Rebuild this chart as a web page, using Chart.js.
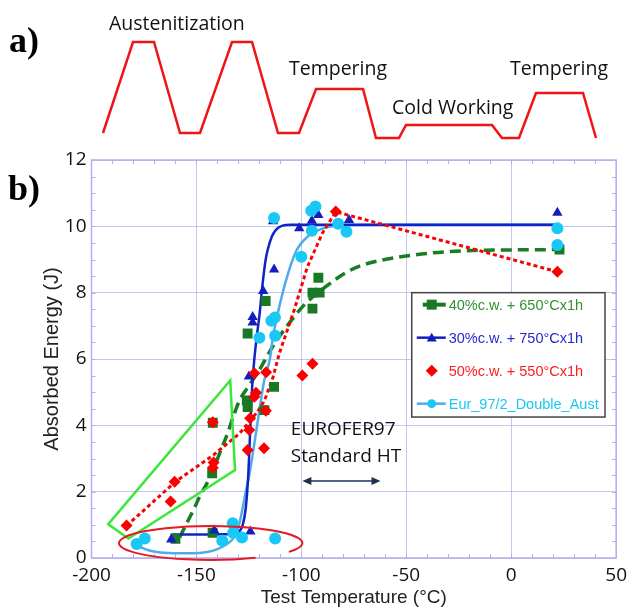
<!DOCTYPE html>
<html>
<head>
<meta charset="utf-8">
<script src="https://cdn.jsdelivr.net/npm/chart.js@4.4.0/dist/chart.umd.min.js"></script>
<style>
  html, body { margin: 0; padding: 0; background: #fff; }
  #page { position: relative; width: 633px; height: 612px; overflow: hidden; }
  .wrap { position: absolute; left: 0; top: 0; }
  .lbl { position: absolute; white-space: nowrap; font-family: "Open Sans"; font-size: 19.5px; line-height: 1; color: #111; }
  .tag { position: absolute; white-space: nowrap; font: bold 36px "Liberation Serif"; line-height: 1; color: #000; }
</style>
</head>
<body>
<div id="page">
  <div class="wrap" style="width:633px;height:150px"><canvas id="heat"></canvas></div>
  <div class="wrap" style="width:633px;height:612px"><canvas id="main"></canvas></div>
  <div class="tag" style="left:9px;top:22px">a)</div>
  <div class="tag" style="left:8px;top:170px">b)</div>
  <div class="lbl" style="left:109px;top:13px">Austenitization</div>
  <div class="lbl" style="left:289px;top:58px">Tempering</div>
  <div class="lbl" style="left:392px;top:97px">Cold Working</div>
  <div class="lbl" style="left:510px;top:58px">Tempering</div>
</div>
<script>
// panel a) heat treatment schematic (time, temperature in arbitrary units)
const heatTime = [103, 133, 154, 180, 200, 232, 252, 278, 299, 316, 363, 376, 399, 406, 492, 502, 519, 536, 583, 596];
const heatTemp = [17, 108, 108, 17, 17, 108, 108, 17, 17, 61, 61, 12, 12, 25, 25, 12, 12, 57, 57, 12];

// panel b) measured points [temperature °C, energy J]
const cw40Points = [[-160, 0.58], [-142.3, 0.76], [-142.5, 2.55], [-142.2, 4.08], [-126, 4.75], [-125.6, 4.55],
  [-117.6, 4.46], [-113, 5.16], [-125.6, 6.77], [-117, 7.75], [-94.7, 7.52], [-94.7, 8.0], [-91.3, 8.0],
  [-91.9, 8.45], [23, 9.3]];
const cw30Points = [[-162, 0.56], [-141.5, 0.83], [-124.3, 0.8], [-125, 5.47], [-123.2, 7.1], [-123.2, 7.27],
  [-118.2, 8.05], [-113, 8.7], [-113.5, 10.15], [-101, 9.94], [-95, 10.17], [-91.9, 10.34], [-77.3, 10.19], [22, 10.41]];
const cw50Points = [[-183.3, 0.98], [-162.3, 1.7], [-160.4, 2.3], [-142.2, 2.72], [-141.8, 2.88], [-142.2, 4.09],
  [-125.6, 3.26], [-124.8, 3.86], [-124.4, 4.21], [-122.4, 4.86], [-121.6, 4.98], [-117.8, 3.31], [-116.9, 4.44],
  [-122.4, 5.57], [-116.8, 5.6], [-99.5, 5.5], [-94.7, 5.86], [-83.6, 10.45], [22, 8.63]];
const eurPoints = [[-178.5, 0.42], [-174.6, 0.59], [-137.7, 0.52], [-132.7, 1.05], [-132.5, 0.76], [-128.3, 0.62],
  [-112.5, 0.59], [-120, 6.64], [-114.3, 7.15], [-112.6, 7.25], [-112.5, 6.7], [-113, 10.25], [-100, 9.08],
  [-95, 9.87], [-95.3, 10.47], [-93.3, 10.6], [-82.5, 10.08], [-78.5, 9.84], [22, 9.94], [22, 9.44]];

// fitted curves
const cw40Fit = [[-158, 0.62], [-155, 1.0], [-151, 1.5], [-148.5, 1.85], [-145, 2.25], [-142, 2.65], [-139, 3.15],
  [-135.8, 3.65], [-132.5, 4.25], [-129.5, 4.75], [-126, 5.1], [-120, 5.67], [-113.7, 6.37], [-105.8, 7.08],
  [-97.9, 7.68], [-88.4, 8.18], [-78.9, 8.6], [-71, 8.83], [-47, 9.13], [-23.5, 9.26], [0, 9.29], [23, 9.3]];
const cw30Fit = [[-162, 0.71], [-145, 0.71], [-133, 0.72], [-130, 0.78], [-128, 0.98], [-126.5, 1.5], [-125.3, 2.5],
  [-124.4, 3.8], [-123.4, 5.2], [-122.4, 6.0], [-121, 6.8], [-120, 7.3], [-118.5, 8.25], [-117, 9.0], [-116, 9.3],
  [-114, 9.7], [-112, 9.9], [-109, 10.02], [-105, 10.05], [22, 10.05]];
const cw50Fit = [[-183.3, 0.97], [-160, 2.3], [-142, 3.1], [-129.5, 3.75], [-121, 4.4], [-118, 4.7], [-116.9, 4.86],
  [-113.5, 5.45], [-110.5, 6.17], [-103.4, 7.48], [-97.1, 8.78], [-90, 9.79], [-83.6, 10.44], [22, 8.63]];
const eurFit = [[-178.5, 0.38], [-172, 0.22], [-163, 0.15], [-152, 0.14], [-145, 0.18], [-140, 0.27], [-136, 0.4],
  [-133, 0.55], [-131, 0.75], [-129.5, 1.05], [-128, 1.5], [-126.5, 2.0], [-124.8, 2.5], [-122.4, 3.45],
  [-120, 4.45], [-117.7, 5.35], [-115, 6.0], [-113.7, 6.6], [-111.5, 7.3], [-107.4, 8.35], [-102.5, 9.25],
  [-96.5, 9.72], [-90, 9.93], [-84, 10.02], [-78, 10.04], [22, 10.05]];

const xTicks = [-200, -150, -100, -50, 0, 50];
const yTicks = [0, 2, 4, 6, 8, 10, 12];

const GREEN = 'rgb(25,120,35)', BLUE = 'rgb(20,30,190)', RED = 'rgb(250,0,0)', CYAN = 'rgb(25,200,245)';
const CYAN_LINE = 'rgb(80,170,235)';
const GRID = 'rgba(160,160,235,0.6)', FRAME = 'rgb(175,175,240)';

const toXY = pts => pts.map(([x, y]) => ({ x, y }));

new Chart(document.getElementById('heat'), {
  type: 'line',
  data: {
    datasets: [{
      data: heatTime.map((t, i) => ({ x: t, y: heatTemp[i] })),
      borderColor: 'rgb(240,20,20)', borderWidth: 2.5, pointRadius: 0, tension: 0
    }]
  },
  options: {
    responsive: true, maintainAspectRatio: false, animation: false, events: [],
    layout: { padding: 0 },
    plugins: { legend: { display: false }, tooltip: { enabled: false } },
    scales: {
      x: { type: 'linear', display: false, min: 0, max: 633 },
      y: { type: 'linear', display: false, min: 0, max: 150 }
    }
  }
});

const legendRows = [
  { text: '40%c.w. + 650°Cx1h', color: 'rgb(50,145,50)', mark: GREEN, line: GREEN, shape: 'square' },
  { text: '30%c.w. + 750°Cx1h', color: 'rgb(40,40,205)', mark: BLUE, line: BLUE, shape: 'triangle' },
  { text: '50%c.w. + 550°Cx1h', color: 'rgb(255,30,30)', mark: RED, line: null, shape: 'diamond' },
  { text: 'Eur_97/2_Double_Aust', color: CYAN, mark: CYAN, line: CYAN_LINE, shape: 'circle' }
];

function marker(ctx, shape, x, y, r) {
  ctx.beginPath();
  if (shape === 'square') ctx.rect(x - r, y - r, 2 * r, 2 * r);
  else if (shape === 'triangle') { ctx.moveTo(x, y - r); ctx.lineTo(x + r, y + r * 0.75); ctx.lineTo(x - r, y + r * 0.75); ctx.closePath(); }
  else if (shape === 'diamond') { ctx.moveTo(x, y - r); ctx.lineTo(x + r, y); ctx.lineTo(x, y + r); ctx.lineTo(x - r, y); ctx.closePath(); }
  else ctx.arc(x, y, r, 0, Math.PI * 2);
  ctx.fill();
}

const frame = {
  id: 'frame',
  beforeDatasetsDraw(chart) {
    const { ctx, chartArea: a, scales: { x, y } } = chart;
    ctx.save();
    ctx.strokeStyle = FRAME; ctx.lineWidth = 1;
    ctx.beginPath();
    for (let t = x.min + 10; t < x.max; t += 10) {
      const px = Math.round(x.getPixelForValue(t)) + 0.5;
      ctx.moveTo(px, a.top); ctx.lineTo(px, a.top + 4);
      ctx.moveTo(px, a.bottom); ctx.lineTo(px, a.bottom - 4);
    }
    for (let v = y.min + 0.5; v < y.max; v += 0.5) {
      const py = Math.round(y.getPixelForValue(v)) + 0.5;
      ctx.moveTo(a.left, py); ctx.lineTo(a.left + 4, py);
      ctx.moveTo(a.right, py); ctx.lineTo(a.right - 4, py);
    }
    ctx.stroke();
    ctx.lineWidth = 1.5;
    ctx.strokeRect(a.left, a.top, a.right - a.left, a.bottom - a.top);
    ctx.restore();
  }
};

const notes = {
  id: 'notes',
  afterDatasetsDraw(chart) {
    const { ctx, scales: { x, y } } = chart;
    const X = v => x.getPixelForValue(v), Y = v => y.getPixelForValue(v);
    ctx.save();
    // green outline around the low-temperature 50% points
    ctx.strokeStyle = 'rgb(60,230,60)'; ctx.lineWidth = 2.5; ctx.lineJoin = 'miter';
    ctx.beginPath();
    ctx.moveTo(X(-192), Y(1.02)); ctx.lineTo(X(-133.9), Y(5.35)); ctx.lineTo(X(-131.6), Y(2.65)); ctx.lineTo(X(-182.4), Y(0.59));
    ctx.closePath(); ctx.stroke();
    // red ellipse around the lower shelf
    const cx = X(-143.2), cy = Y(0.45), rx = X(-143.2 + 43.7) - cx, ry = Y(0.45) - Y(0.96);
    ctx.strokeStyle = 'rgb(230,25,35)'; ctx.lineWidth = 2;
    ctx.beginPath(); ctx.ellipse(cx, cy, rx, ry, 0, 1.06, 0.55 + Math.PI * 2); ctx.stroke();
    // double arrow
    const ax1 = X(-99.5), ax2 = X(-62.3), ay = Y(2.32);
    ctx.strokeStyle = 'rgb(30,50,80)'; ctx.fillStyle = 'rgb(30,50,80)'; ctx.lineWidth = 1.5;
    ctx.beginPath(); ctx.moveTo(ax1 + 6, ay); ctx.lineTo(ax2 - 6, ay); ctx.stroke();
    ctx.beginPath(); ctx.moveTo(ax1, ay); ctx.lineTo(ax1 + 9, ay - 4); ctx.lineTo(ax1 + 9, ay + 4); ctx.closePath(); ctx.fill();
    ctx.beginPath(); ctx.moveTo(ax2, ay); ctx.lineTo(ax2 - 9, ay - 4); ctx.lineTo(ax2 - 9, ay + 4); ctx.closePath(); ctx.fill();
    // text annotation
    ctx.fillStyle = '#111'; ctx.font = '19px "Open Sans"'; ctx.textBaseline = 'middle'; ctx.textAlign = 'left';
    ctx.fillText('EUROFER97', X(-105), Y(3.86));
    ctx.fillText('Standard HT', X(-105), Y(3.06));
    // legend
    const bl = X(-47.4), br = X(44.7), bt = Y(8), bb = Y(4.25);
    ctx.fillStyle = '#fff'; ctx.fillRect(bl, bt, br - bl, bb - bt);
    ctx.strokeStyle = '#444'; ctx.lineWidth = 1.5; ctx.strokeRect(bl, bt, br - bl, bb - bt);
    ctx.font = '14.5px "Liberation Sans"';
    legendRows.forEach((row, i) => {
      const ry2 = bt + 12 + i * 33, mx = bl + 20;
      if (row.line) {
        ctx.strokeStyle = row.line; ctx.lineWidth = row.shape === 'square' ? 4 : 2.5;
        ctx.beginPath(); ctx.moveTo(bl + (row.shape === 'square' ? 11 : 5), ry2); ctx.lineTo(bl + 34, ry2); ctx.stroke();
      }
      ctx.fillStyle = row.mark;
      marker(ctx, row.shape, mx, ry2, row.shape === 'diamond' ? 6 : (row.shape === 'circle' ? 4.5 : 5));
      ctx.fillStyle = row.color;
      ctx.fillText(row.text, bl + 37, ry2 + 1);
    });
    ctx.restore();
  }
};

const pointSet = (label, pts, color, style, r, order) => ({
  label, data: toXY(pts), showLine: false, pointStyle: style, pointRadius: r,
  backgroundColor: color, borderColor: color, borderWidth: 0, order
});
const fitSet = (label, pts, color, width, dash, order, smooth) => ({
  label, data: toXY(pts), showLine: true, pointRadius: 0, borderColor: color, borderWidth: width,
  borderDash: dash, cubicInterpolationMode: smooth ? 'monotone' : 'default', tension: 0, fill: false, order
});

new Chart(document.getElementById('main'), {
  type: 'scatter',
  data: {
    datasets: [
      pointSet('50%c.w. + 550°Cx1h', cw50Points, RED, 'rectRot', 6, 1),
      pointSet('Eur_97/2_Double_Aust', eurPoints, CYAN, 'circle', 6, 2),
      pointSet('30%c.w. + 750°Cx1h', cw30Points, BLUE, 'triangle', 6, 3),
      pointSet('40%c.w. + 650°Cx1h', cw40Points, GREEN, 'rect', 7, 4),
      fitSet('50% fit', cw50Fit, RED, 3, [4, 3], 10, false),
      fitSet('30% fit', cw30Fit, 'rgb(15,35,200)', 2.5, [], 11, true),
      fitSet('Eur fit', eurFit, CYAN_LINE, 2.5, [], 12, true),
      fitSet('40% fit', cw40Fit, 'rgb(25,125,35)', 3.5, [11, 6], 13, true)
    ]
  },
  options: {
    responsive: true, maintainAspectRatio: false, animation: false, events: [],
    layout: { padding: { top: 160, right: 15, left: 0, bottom: 0 } },
    plugins: { legend: { display: false }, tooltip: { enabled: false } },
    scales: {
      x: {
        type: 'linear', min: -200, max: 50,
        afterBuildTicks: s => { s.ticks = xTicks.map(v => ({ value: v })); },
        afterFit: s => { s.height = 54; },
        grid: { color: GRID, drawTicks: false },
        border: { display: false },
        ticks: { color: '#111', font: { family: 'Open Sans', size: 19 }, padding: 6, maxRotation: 0 },
        title: { display: true, text: 'Test Temperature (°C)', color: '#222',
          font: { family: 'Liberation Sans', size: 19 }, padding: { top: 0, bottom: 2.6 } }
      },
      y: {
        type: 'linear', min: 0, max: 12,
        afterBuildTicks: s => { s.ticks = yTicks.map(v => ({ value: v })); },
        afterFit: s => { s.width = 91.5; },
        grid: { color: GRID, drawTicks: false },
        border: { display: false },
        ticks: { color: '#111', font: { family: 'Open Sans', size: 19 }, padding: 5 },
        title: { display: true, text: 'Absorbed Energy (J)', color: '#222',
          font: { family: 'Liberation Sans', size: 20 }, padding: { top: 40, bottom: 0 } }
      }
    }
  },
  plugins: [frame, notes]
});
</script>
</body>
</html>
